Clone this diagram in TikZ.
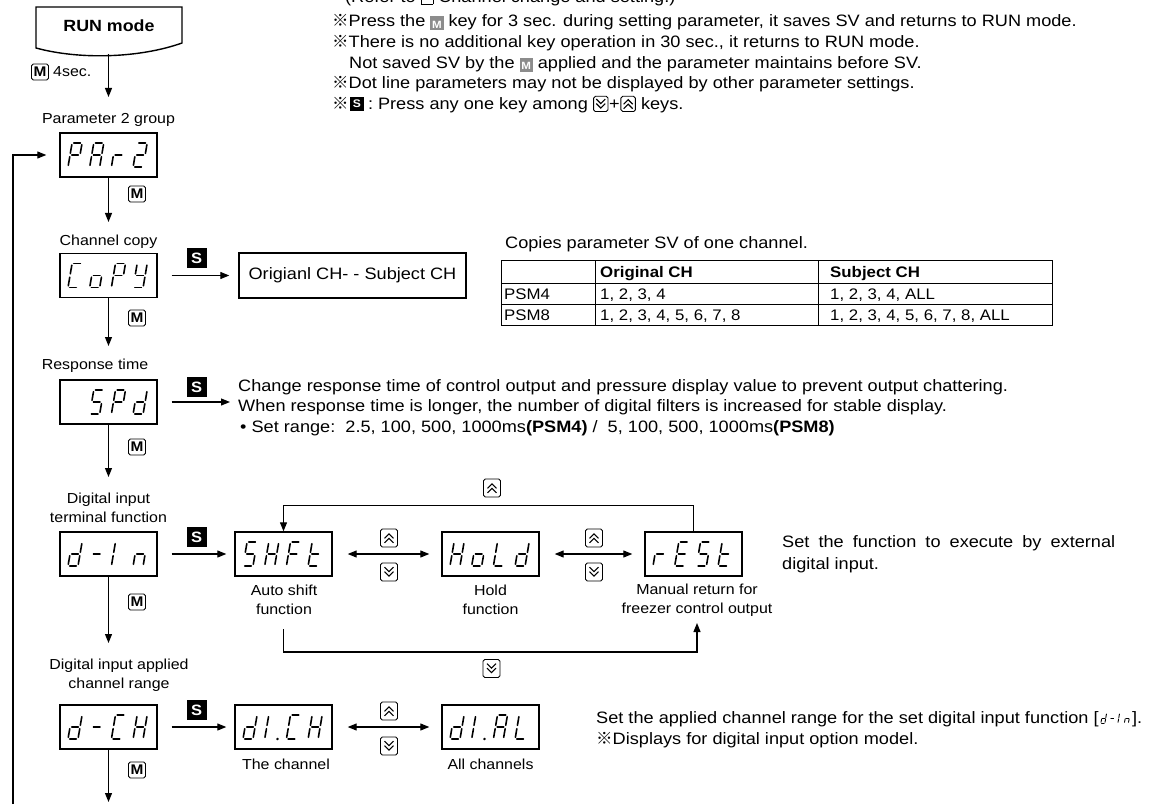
\documentclass[tikz,border=0pt]{standalone}
\usepackage{fontspec}
\setmainfont[FakeStretch=1.1]{Liberation Sans}
\newfontfamily\cjk{Noto Sans CJK JP}
\usetikzlibrary{arrows.meta}

\newcommand\fmain{\fontsize{16.5}{20}\selectfont}
\newcommand\flab{\fontsize{14.5}{19}\selectfont}
\newcommand\ftab{\fontsize{15.3}{18}\selectfont}
\newcommand\kome{{\cjk ※}}
\newcommand\gmk{\raisebox{-1.5pt}{\setlength{\fboxsep}{0.8pt}\colorbox[gray]{0.55}{\makebox[11.5pt]{\rule[-0.8pt]{0pt}{12pt}\color{white}\bfseries\fontsize{10.5}{10.5}\selectfont M}}}}
\newcommand\refbox{\raisebox{-1pt}{\setlength{\fboxsep}{0pt}\setlength{\fboxrule}{0.7pt}\fbox{\rule{0pt}{11pt}\hspace{11pt}}}}

% seven-segment pieces (local units, bottom-left origin, up = negative y)
\def\sgXa{\draw[seg] (1.7,-24) -- (8.3,-24);}
\def\sgXb{\draw[seg] (10,-22.3) -- (10,-13.7);}
\def\sgXc{\draw[seg] (10,-10.3) -- (10,-1.7);}
\def\sgXd{\draw[seg] (1.7,0) -- (8.3,0);}
\def\sgXe{\draw[seg] (0,-1.7) -- (0,-10.3);}
\def\sgXf{\draw[seg] (0,-13.7) -- (0,-22.3);}
\def\sgXg{\draw[seg] (1.7,-12) -- (8.3,-12);}
\def\sgXp{\fill (12.8,0) circle[radius=1.4pt];}
\def\sgXz{}
\def\syP{a,b,e,f,g}
\def\syA{a,b,c,e,f,g}
\def\syr{e,g}
\def\sytwo{a,b,g,e,d}
\def\syC{a,d,e,f}
\def\syo{c,d,e,g}
\def\syY{b,c,d,f,g}
\def\syS{a,f,g,c,d}
\def\syd{b,c,d,e,g}
\def\sydash{g}
\def\syI{e,f}
\def\syIp{e,f,p}
\def\syn{c,e,g}
\def\syH{b,c,e,f,g}
\def\syF{a,e,f,g}
\def\syt{d,e,f,g}
\def\syL{d,e,f}
\def\syE{a,d,e,f,g}
\def\syblank{z}

\newcommand\chr[5][]{\begin{scope}[shift={(#2,#3)},scale=#4,xslant=0.17,#1]\edef\chrlist{#5}\foreach \s in \chrlist {\csname sgX\s\endcsname}\end{scope}}
\newcommand\disp[7]{\node[disp] (#1) at (#2,#3) {};%
\chr{#2-40.5}{#3+12}{1}{#4}\chr{#2-18.8}{#3+12}{1}{#5}\chr{#2+2.9}{#3+12}{1}{#6}\chr{#2+24.6}{#3+12}{1}{#7}}

\tikzset{
 seg/.style={line width=1.6pt, line cap=round},
 disp/.style={draw, line width=1.4pt, minimum width=97pt, minimum height=44pt, inner sep=0pt},
 conn/.style={line width=1.1pt, -{Triangle[length=9pt,width=7pt]}},
 dconn/.style={line width=1.1pt, {Triangle[length=9pt,width=7pt]}-{Triangle[length=9pt,width=7pt]}},
 txt/.style={inner sep=0pt, font=\fmain, anchor=base west},
 lab/.style={inner sep=0pt, font=\flab, align=center},
 tabtxt/.style={inner sep=0pt, font=\ftab, anchor=base west},
 tabline/.style={line width=1pt},
 mkey/.style={draw, fill=white, line width=0.9pt, rounded corners=1.8pt, minimum width=17pt, minimum height=16pt, inner sep=0pt, font=\bfseries\fontsize{14}{14}\selectfont},
 skey/.style={fill=black, text=white, minimum size=20pt, inner sep=0pt, font=\bfseries\fontsize{15}{15}\selectfont},
 keyframe/.style={draw, fill=white, line width=0.9pt, rounded corners=1.8pt, inner sep=0pt},
 ukey/.style={keyframe, minimum width=#1*17pt, minimum height=#1*18pt, path picture={\draw[line width=1.1pt, sharp corners, shift={(path picture bounding box.center)}, scale=#1] (-4.5pt,-0.3pt) -- (0pt,4.2pt) -- (4.5pt,-0.3pt) (-4.5pt,-4.8pt) -- (0pt,-0.3pt) -- (4.5pt,-4.8pt);}},
 ukey/.default=1,
 dkey/.style={keyframe, minimum width=#1*17pt, minimum height=#1*18pt, path picture={\draw[line width=1.1pt, sharp corners, shift={(path picture bounding box.center)}, scale=#1] (-4.5pt,0.3pt) -- (0pt,-4.2pt) -- (4.5pt,0.3pt) (-4.5pt,4.8pt) -- (0pt,0.3pt) -- (4.5pt,4.8pt);}},
 dkey/.default=1,
}

\begin{document}
\begin{tikzpicture}[x=1pt,y=-1pt]
\useasboundingbox (0,0) rectangle (1150,810);
\fill[white] (0,0) rectangle (1150,810);

% ---------- notes at top ----------
\node[txt] (n0) at (345,3) {(Refer to \refbox{} Channel change and setting.)};
\node[txt] (n1) at (332,27) {\kome Press the \gmk{} key for 3 sec. during setting parameter, it saves SV and returns to RUN mode.};
\node[txt] (n2) at (332,48) {\kome There is no additional key operation in 30 sec., it returns to RUN mode.};
\node[txt] (n3) at (349,68.5) {Not saved SV by the \gmk{} applied and the parameter maintains before SV.};
\node[txt] (n4) at (332,89) {\kome Dot line parameters may not be displayed by other parameter settings.};
\node[txt] (n5a) at (332,110) {\kome};
\node[skey, minimum size=13.5pt, font=\bfseries\fontsize{11}{11}\selectfont, anchor=west] (n5s) at ([xshift=1pt]n5a.east) {S};
\node[txt] (n5b) at ([xshift=4pt]n5s.east |- n5a.base) {:\ Press any one key among};
\node[dkey=0.85, anchor=west] (n5d) at ([xshift=5pt]n5b.east |- n5s.center) {};
\node[txt] (n5p) at ([xshift=0.5pt]n5d.east |- n5a.base) {+};
\node[ukey=0.85, anchor=west] (n5u) at ([xshift=0.5pt]n5p.east |- n5s.center) {};
\node[txt] (n5k) at ([xshift=5pt]n5u.east |- n5a.base) {keys.};

% ---------- RUN mode ----------
\draw[line width=1.4pt, fill=white] (36,48) -- (36,7) -- (182,7) -- (182,43) .. controls (140,58) and (80,60) .. (36,48) -- cycle;
\node[inner sep=0pt, font=\bfseries\fontsize{16.2}{16}\selectfont] (run) at (109,26) {RUN mode};
\coordinate (runb) at (108.5,54);
\coordinate (t0) at (108.5,97);
\draw[conn] (runb) -- (t0);
\node[mkey] (m0) at (40,72) {M};
\node[lab, anchor=base west] (sec) at (53,77) {4sec.};

% ---------- PAr2 ----------
\node[lab, anchor=base] (lpar) at (108.5,124) {Parameter 2 group};
\disp{par2}{108.5}{155}{\syP}{\syA}{\syr}{\sytwo}
\coordinate (lb) at (13,804);
\draw[conn, shorten >=13pt] (lb) |- (par2.west);
\coordinate (t1) at (108.5,222);
\draw[conn] (par2.south) -- (t1);
\node[mkey] (m1) at (137,194) {M};

% ---------- CoPy ----------
\node[lab, anchor=base] (lcopy) at (108.5,245) {Channel copy};
\disp{copy}{108.5}{275.5}{\syC}{\syo}{\syP}{\syY}
\node[skey] (s1) at (196.5,258) {S};
\node[draw, line width=1.4pt, minimum width=227pt, minimum height=45pt, inner sep=0pt, font=\fmain] (orig) at (352.5,275.5) {Origianl CH- - Subject CH};
\draw[conn, shorten <=14pt, shorten >=9pt] (copy.east) -- (orig.west);
\coordinate (t2) at (108.5,346);
\draw[conn] (copy.south) -- (t2);
\node[mkey] (m2) at (137,318) {M};

% table
\node[txt] (cp) at (505,248) {Copies parameter SV of one channel.};
\draw[tabline] (501,260) rectangle (1052,325);
\draw[tabline] (501,283) -- (1052,283) (501,304) -- (1052,304) (595,260) -- (595,325) (818,260) -- (818,325);
\node[tabtxt] (h1) at (600,277) {\bfseries Original CH};
\node[tabtxt] (h2) at (830,277) {\bfseries Subject CH};
\node[tabtxt] (r1a) at (504,299) {PSM4};
\node[tabtxt] (r1b) at (600,299) {1, 2, 3, 4};
\node[tabtxt] (r1c) at (830,299) {1, 2, 3, 4, ALL};
\node[tabtxt] (r2a) at (504,320) {PSM8};
\node[tabtxt] (r2b) at (600,320) {1, 2, 3, 4, 5, 6, 7, 8};
\node[tabtxt] (r2c) at (830,320) {1, 2, 3, 4, 5, 6, 7, 8, ALL};

% ---------- SPd ----------
\node[lab, anchor=base] (lspd) at (95,369) {Response time};
\disp{spd}{108.5}{402}{\syblank}{\syS}{\syP}{\syd}
\node[skey] (s2) at (196.5,387) {S};
\coordinate (spdt) at (230,402);
\draw[conn, shorten <=14pt] (spd.east) -- (spdt);
\node[txt] (sp1) at (238,391) {Change response time of control output and pressure display value to prevent output chattering.};
\node[txt] (sp2) at (238,411) {When response time is longer, the number of digital filters is increased for stable display.};
\node[txt] (sp3) at (240,432) {• Set range:\ \ 2.5, 100, 500, 1000ms\textbf{(PSM4)} /\ \ 5, 100, 500, 1000ms\textbf{(PSM8)}};
\coordinate (t3) at (108.5,477);
\draw[conn] (spd.south) -- (t3);
\node[mkey] (m3) at (137,447) {M};

% ---------- d-In ----------
\node[lab] (ldin) at (108.5,507.5) {Digital input\\terminal function};
\disp{din}{108.5}{554}{\syd}{\sydash}{\syI}{\syn}
\node[skey] (s3) at (196.5,537) {S};
\disp{shft}{283.5}{554}{\syS}{\syH}{\syF}{\syt}
\disp{hold}{490.5}{554}{\syH}{\syo}{\syL}{\syd}
\disp{rest}{693.5}{554}{\syr}{\syE}{\syS}{\syt}
\draw[conn, shorten <=14pt, shorten >=8pt] (din.east) -- (shft.west);
\draw[dconn, shorten <=15pt, shorten >=12pt] (shft.east) -- (hold.west);
\draw[dconn, shorten <=15pt, shorten >=12pt] (hold.east) -- (rest.west);
\node[ukey] (u1) at (389,538) {};
\node[dkey] (d1) at (389,572) {};
\node[ukey] (u2) at (594,538) {};
\node[dkey] (d2) at (594,572) {};
\draw[conn] (rest.north) -- ++(0,-26) -| (shft.north);
\node[ukey] (u3) at (492,488) {};
\node[lab] (lshft) at (284,600) {Auto shift\\function};
\node[lab] (lhold) at (490.5,600) {Hold\\function};
\node[lab] (lrest) at (697,600) {Manual return for\\freezer control output};
\coordinate (bs) at (283.5,629);
\coordinate (be) at (697,623);
\draw[conn] (bs) -- ++(0,23) -| (be);
\node[dkey] (d3) at (491.5,668.5) {};
\node[txt] (fx1) at (782,547) {\makebox[333pt][s]{Set the function to execute by external}};
\node[txt] (fx2) at (782,569) {digital input.};
\coordinate (t4) at (108.5,643);
\draw[conn] (din.south) -- (t4);
\node[mkey] (m4) at (137,602) {M};

% ---------- d-CH ----------
\node[lab] (ldch) at (119,675.5) {Digital input applied\\channel range};
\disp{dch}{108.5}{727}{\syd}{\sydash}{\syC}{\syH}
\node[skey] (s4) at (196.5,710) {S};
\disp{dich}{283.5}{727}{\syd}{\syIp}{\syC}{\syH}
\disp{dial}{490.5}{727}{\syd}{\syIp}{\syA}{\syL}
\draw[conn, shorten <=14pt, shorten >=8pt] (dch.east) -- (dich.west);
\draw[dconn, shorten <=15pt, shorten >=12pt] (dich.east) -- (dial.west);
\node[ukey] (u4) at (389,711) {};
\node[dkey] (d4) at (389,746) {};
\node[lab, anchor=base] (ldich) at (286,769) {The channel};
\node[lab, anchor=base] (ldial) at (490.5,769) {All channels};
\node[txt] (ch1) at (596,723) {Set the applied channel range for the set digital input function [};
\begin{scope}[shift={(ch1.base east)}]
\chr[seg/.append style={line width=0.9pt}]{2}{0}{0.4}{\syd}
\chr[seg/.append style={line width=0.9pt}]{10.5}{0}{0.4}{\sydash}
\chr[seg/.append style={line width=0.9pt}]{19}{0}{0.4}{\syI}
\chr[seg/.append style={line width=0.9pt}]{25.5}{0}{0.4}{\syn}
\end{scope}
\node[txt] (ch1b) at ([xshift=33pt]ch1.base east) {].};
\node[txt] (ch2) at (596,744) {\kome Displays for digital input option model.};
\coordinate (t5) at (108.5,802);
\draw[conn] (dch.south) -- (t5);
\node[mkey] (m5) at (137,770) {M};
\end{tikzpicture}
\end{document}
